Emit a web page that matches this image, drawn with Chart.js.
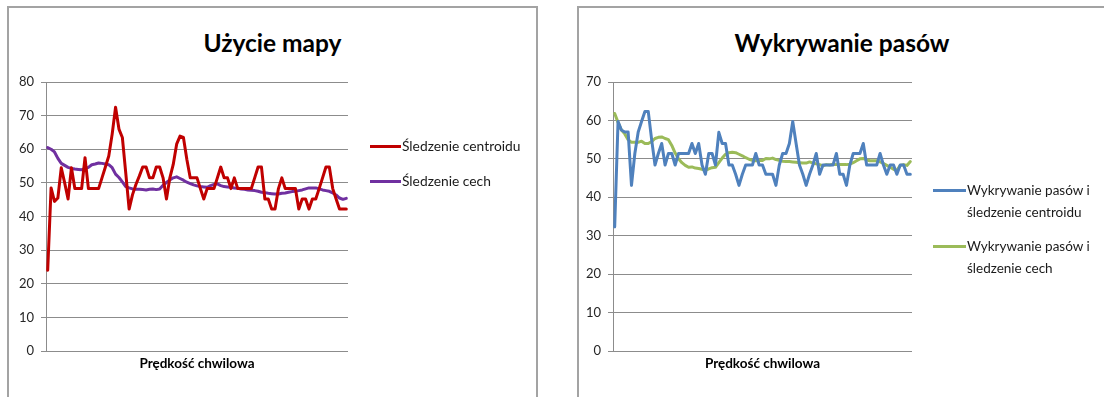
<!DOCTYPE html>
<html>
<head>
<meta charset="utf-8">
<script src="https://cdn.jsdelivr.net/npm/chart.js@4.4.1/dist/chart.umd.min.js"></script>
<style>
  html, body { margin: 0; padding: 0; background: #fff; }
  body { width: 1104px; height: 397px; overflow: hidden; position: relative; font-family: Lato, "Open Sans", "DejaVu Sans", sans-serif; }
  .panel { position: absolute; top: 6px; height: 420px; border: 2px solid #a3a3a3; box-sizing: border-box; background: #fff; }
  #panelMap { left: 7px; width: 531px; }
  #panelLanes { left: 577px; width: 530px; }
  .title { position: absolute; top: 26px; font-weight: 700; font-size: 24.5px; color: #000; text-align: center; line-height: 34px; }
  canvas { position: absolute; }
  .leg-line { position: absolute; height: 3px; }
  .leg-text { position: absolute; font-size: 13.8px; color: #1a1a1a; white-space: nowrap; line-height: 22px; }
</style>
</head>
<body>
<div class="panel" id="panelMap"></div>
<div class="panel" id="panelLanes"></div>

<div class="title" style="left:7px;width:531px;">Użycie mapy</div>
<div class="title" style="left:577px;width:530px;">Wykrywanie pasów</div>

<canvas id="chartMap" width="529" height="390" style="left:8px;top:7px;"></canvas>
<canvas id="chartLanes" width="526" height="390" style="left:578px;top:7px;"></canvas>

<!-- legends -->
<div class="leg-line" style="left:370px;top:145px;width:31px;background:#C00000;"></div>
<div class="leg-text" style="left:402px;top:135px;">Śledzenie centroidu</div>
<div class="leg-line" style="left:370px;top:180px;width:31px;background:#7030A0;"></div>
<div class="leg-text" style="left:402px;top:170px;">Śledzenie cech</div>

<div class="leg-line" style="left:933px;top:189px;width:33px;background:#4F81BD;"></div>
<div class="leg-text" style="left:967px;top:179px;font-size:13.5px;">Wykrywanie pasów i<br>śledzenie centroidu</div>
<div class="leg-line" style="left:933px;top:245px;width:33px;background:#9BBB59;"></div>
<div class="leg-text" style="left:967px;top:235px;font-size:13.5px;">Wykrywanie pasów i<br>śledzenie cech</div>

<script>
// "Użycie mapy" – map usage, frame rate per sample
const mapCentroid = [
  24.0, 48.5, 44.5, 45.5, 54.5, 50.0, 45.2, 54.5, 48.3, 48.3,
  48.3, 57.5, 48.3, 48.3, 48.3, 48.3, 51.5, 54.7, 58.0, 64.5,
  72.5, 66.0, 63.5, 53.0, 42.2, 46.5, 49.5, 52.0, 54.7, 54.7,
  51.5, 51.5, 54.7, 54.7, 51.5, 45.2, 51.5, 55.5, 61.5, 63.9,
  63.5, 57.0, 51.5, 51.5, 51.5, 48.3, 45.2, 48.3, 48.3, 48.3,
  51.5, 54.7, 51.5, 51.5, 48.3, 51.5, 48.3, 48.3, 48.3, 48.3,
  48.3, 51.5, 54.7, 54.7, 45.2, 45.2, 42.2, 42.2, 48.3, 51.5,
  48.3, 48.3, 48.3, 48.3, 42.2, 45.2, 45.2, 42.2, 45.2, 45.2,
  48.3, 51.5, 54.7, 54.7, 48.3, 45.2, 42.2, 42.2, 42.2
];
const mapFeatures = [
  60.5, 60.0, 59.2, 57.3, 55.8, 55.2, 54.6, 54.3, 54.1, 54.0,
  53.9, 54.2, 54.6, 55.4, 55.6, 55.9, 55.8, 55.6, 55.4, 54.5,
  52.6, 51.6, 50.3, 48.9, 48.5, 48.2, 48.1, 48.1, 48.0, 47.9,
  48.1, 48.2, 48.0, 48.2, 49.3, 50.1, 50.9, 51.5, 51.8, 51.3,
  50.8, 50.2, 49.8, 49.4, 49.1, 48.9, 48.8, 48.7, 49.2, 49.5,
  49.7, 49.2, 48.9, 48.8, 48.7, 48.5, 48.4, 48.2, 48.1, 47.9,
  47.8, 47.7, 47.5, 47.2, 47.1, 46.9, 46.8, 46.7, 46.7, 46.9,
  47.0, 47.2, 47.4, 47.5, 47.7, 47.9, 48.2, 48.5, 48.5, 48.5,
  48.2, 47.9, 47.7, 47.5, 47.0, 46.4, 45.5, 45.1, 45.4
];

// "Wykrywanie pasów" – lane detection combined with tracking
const lanesCentroid = [
  32.3, 59.7, 57.5, 57.0, 57.0, 43.1, 51.4, 57.0, 59.7, 62.3,
  62.3, 55.0, 48.4, 51.4, 54.0, 48.4, 51.4, 51.4, 48.4, 51.4,
  51.4, 51.4, 51.4, 54.0, 51.4, 54.0, 48.4, 46.0, 51.4, 51.4,
  48.4, 56.9, 54.0, 54.0, 48.4, 48.4, 46.0, 43.1, 46.0, 48.4,
  48.4, 48.4, 51.4, 48.4, 48.4, 46.0, 46.0, 46.0, 43.1, 48.4,
  51.4, 51.4, 54.0, 59.7, 54.0, 48.4, 46.0, 43.1, 46.0, 48.4,
  51.4, 46.0, 48.4, 48.4, 48.4, 48.4, 51.4, 46.0, 46.0, 43.1,
  48.4, 51.4, 51.4, 51.4, 54.0, 48.4, 48.4, 48.4, 48.4, 51.4,
  48.4, 46.0, 48.4, 48.4, 46.0, 48.4, 48.4, 46.0, 46.0
];
const lanesFeatures = [
  61.8, 59.5, 57.5, 56.5, 55.0, 54.3, 54.3, 54.3, 54.6, 54.0,
  54.0, 54.5, 55.3, 55.6, 55.7, 55.3, 55.0, 53.5, 51.5, 50.0,
  49.0, 48.3, 47.8, 47.9, 47.6, 47.5, 47.3, 47.0, 47.4, 47.7,
  47.8, 49.0, 50.2, 51.2, 51.6, 51.7, 51.6, 51.2, 50.8, 50.3,
  49.9, 49.6, 49.5, 49.6, 49.6, 50.1, 50.0, 50.2, 49.8, 49.6,
  49.4, 49.3, 49.3, 49.2, 49.1, 49.0, 48.9, 48.9, 49.2, 48.9,
  48.7, 48.5, 48.2, 48.5, 48.4, 48.6, 48.5, 48.5, 48.5, 48.5,
  48.6, 49.0, 49.5, 50.0, 50.1, 49.7, 49.5, 49.5, 49.5, 49.2,
  48.8, 48.3, 47.8, 47.3, 47.0, 48.3, 48.5, 48.3, 49.3
];

const mapMax = 80;
const lanesMax = 70;
const yStep = 10;
const xTitle = 'Prędkość chwilowa';

// sample numbers along the horizontal axis (not labelled)
const mapSamples = mapCentroid.map((_, i) => i + 1);
const lanesSamples = lanesCentroid.map((_, i) => i + 1);

const FONT = 'Lato, "Open Sans", "DejaVu Sans", sans-serif';
const GRID = '#8c8c8c';

function lineSet(label, data, color) {
  return {
    label, data,
    borderColor: color, backgroundColor: color,
    borderWidth: 3, pointRadius: 0, pointHoverRadius: 0,
    tension: 0, borderJoinStyle: 'round', borderCapStyle: 'round',
    fill: false
  };
}

function makeChart(id, labels, datasets, yMax, axisWidth, rightPad) {
  return new Chart(document.getElementById(id), {
    type: 'line',
    data: { labels, datasets },
    options: {
      responsive: false,
      animation: false,
      events: [],
      layout: { padding: { top: 75, right: rightPad, bottom: 0, left: 0 } },
      plugins: { legend: { display: false }, title: { display: false }, tooltip: { enabled: false } },
      scales: {
        x: {
          type: 'category',
          offset: true,
          grid: { display: false, drawTicks: false },
          border: { display: false },
          ticks: { display: false },
          title: {
            display: true, text: xTitle, color: '#000',
            font: { family: FONT, size: 13.5, weight: 'bold' },
            padding: { top: 0, bottom: 25 }
          },
          afterFit(s) { s.height = 46; }
        },
        y: {
          min: 0, max: yMax,
          ticks: { stepSize: yStep, padding: 7, color: '#262626', font: { family: FONT, size: 13 } },
          grid: { color: GRID, lineWidth: 1, tickLength: 5, drawTicks: true },
          border: { display: true, color: GRID, width: 1 },
          afterFit(s) { s.width = axisWidth; }
        }
      }
    }
  });
}

makeChart('chartMap', mapSamples, [
  lineSet('Śledzenie centroidu', mapCentroid, '#C00000'),
  lineSet('Śledzenie cech', mapFeatures, '#7030A0')
], mapMax, 38, 189);

makeChart('chartLanes', lanesSamples, [
  lineSet('Wykrywanie pasów i śledzenie centroidu', lanesCentroid, '#4F81BD'),
  lineSet('Wykrywanie pasów i śledzenie cech', lanesFeatures, '#9BBB59')
], lanesMax, 35, 192);
</script>
</body>
</html>
